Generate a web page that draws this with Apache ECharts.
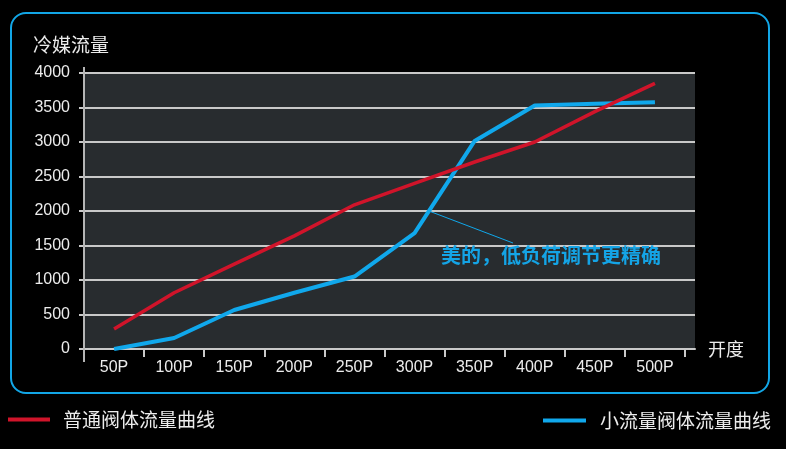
<!DOCTYPE html>
<html><head><meta charset="utf-8">
<script src="https://cdn.jsdelivr.net/npm/echarts@6/dist/echarts.min.js"></script>
<style>html,body{margin:0;padding:0;background:#000;}#c{width:786px;height:449px;}</style>
</head><body><div id="c"></div>
<script>
const categories = ['50P','100P','150P','200P','250P','300P','350P','400P','450P','500P'];
const normalValve = [290, 815, 1230, 1640, 2090, 2400, 2710, 3000, 3440, 3850];
const smallValve = [0, 160, 565, 815, 1050, 1680, 3015, 3530, 3555, 3575];
const seriesNames = ['普通阀体流量曲线', '小流量阀体流量曲线'];
const yTicks = {min: 0, max: 4000, interval: 500};
const annotation = {text: '美的，低负荷调节更精确', value: 2000, from: 5, to: 6};

const FONT = "'Liberation Sans', 'Noto Sans CJK SC', sans-serif";
const CJK = "'Noto Sans CJK SC', sans-serif";
const RED = '#d0142a', BLUE = '#10a8ec', LABEL = '#ececec', GRIDC = '#c9c9c9';

const chart = echarts.init(document.getElementById('c'), null, {renderer: 'canvas'});
chart.setOption({
  backgroundColor: '#000',
  animation: false,
  grid: [
    {left: 84, right: 101, top: 73, bottom: 100, containLabel: false},
    {left: 84, right: 91, top: 73, bottom: 100, show: true, backgroundColor: '#282c2f', borderWidth: 0, z: 0}
  ],
  xAxis: [
    {type: 'category', gridIndex: 0, data: categories, boundaryGap: true,
     name: '开度', nameLocation: 'end', nameGap: 23,
     nameTextStyle: {color: LABEL, fontSize: 18, fontFamily: CJK, verticalAlign: 'middle'},
     axisLine: {show: false},
     axisTick: {show: true, length: 8, lineStyle: {color: GRIDC, width: 2}},
     axisLabel: {color: LABEL, fontSize: 16, fontFamily: FONT, margin: 11},
     splitLine: {show: false}},
    {type: 'value', gridIndex: 1, min: 0, max: 1, show: true,
     axisLine: {show: true, lineStyle: {color: GRIDC, width: 2}},
     axisTick: {show: false}, axisLabel: {show: false}, splitLine: {show: false}}
  ],
  yAxis: [
    {type: 'value', gridIndex: 0, min: yTicks.min, max: yTicks.max, interval: yTicks.interval,
     name: '冷媒流量', nameLocation: 'end', nameGap: 19,
     nameTextStyle: {color: LABEL, fontSize: 19, fontFamily: CJK, align: 'left', padding: [0, 0, 0, -51]},
     axisLine: {show: true, lineStyle: {color: '#b5b5b5', width: 2}},
     axisTick: {show: true, length: 5, lineStyle: {color: GRIDC, width: 2}},
     axisLabel: {color: LABEL, fontSize: 16, fontFamily: FONT, margin: 14, formatter: v => String(v)},
     splitLine: {show: false}},
    {type: 'value', gridIndex: 1, min: yTicks.min, max: yTicks.max, interval: yTicks.interval,
     axisLine: {show: false}, axisTick: {show: false}, axisLabel: {show: false},
     splitLine: {show: true, lineStyle: {color: GRIDC, width: 2}}}
  ],
  legend: [
    {data: [seriesNames[0]], left: 3, top: 405, icon: 'rect', itemWidth: 42, itemHeight: 4,
     textStyle: {color: LABEL, fontSize: 19, fontFamily: CJK, padding: [0, 0, 0, 8]}},
    {data: [seriesNames[1]], left: 538, top: 406, icon: 'rect', itemWidth: 43, itemHeight: 4,
     textStyle: {color: LABEL, fontSize: 19, fontFamily: CJK, padding: [0, 0, 0, 9]}}
  ],
  series: [
    {name: seriesNames[0], type: 'line', xAxisIndex: 0, yAxisIndex: 0, data: normalValve,
     symbol: 'none', color: RED, lineStyle: {color: RED, width: 3.5}, z: 5},
    {name: seriesNames[1], type: 'line', xAxisIndex: 0, yAxisIndex: 0, data: smallValve,
     symbol: 'none', color: BLUE, lineStyle: {color: BLUE, width: 4}, z: 4}
  ]
});

// annotation pointer computed from the data through the axes
const a = chart.convertToPixel({xAxisIndex: 0, yAxisIndex: 0}, [categories[annotation.from], smallValve[annotation.from]]);
const b = chart.convertToPixel({xAxisIndex: 0, yAxisIndex: 0}, [categories[annotation.to], smallValve[annotation.to]]);
const t = (annotation.value - smallValve[annotation.from]) / (smallValve[annotation.to] - smallValve[annotation.from]);
const px = a[0] + (b[0] - a[0]) * t;
const py = chart.convertToPixel({yAxisIndex: 0}, annotation.value);

chart.setOption({
  graphic: [
    {type: 'rect', shape: {x: 11, y: 13, width: 758, height: 380, r: 15},
     style: {fill: 'none', stroke: '#12a6e6', lineWidth: 2}, z: 100, silent: true},
    {type: 'line', shape: {x1: 84, y1: 67, x2: 84, y2: 362},
     style: {stroke: '#b5b5b5', lineWidth: 2}, z: 50},
    {type: 'line', shape: {x1: px, y1: py, x2: 513, y2: 243},
     style: {stroke: BLUE, lineWidth: 1}, z: 60},
    {type: 'text', left: 441, top: 245,
     style: {text: annotation.text, fill: '#14a4e6', font: "bold 20px 'Noto Sans CJK SC', sans-serif"}, z: 60}
  ]
});
</script>
</body></html>
